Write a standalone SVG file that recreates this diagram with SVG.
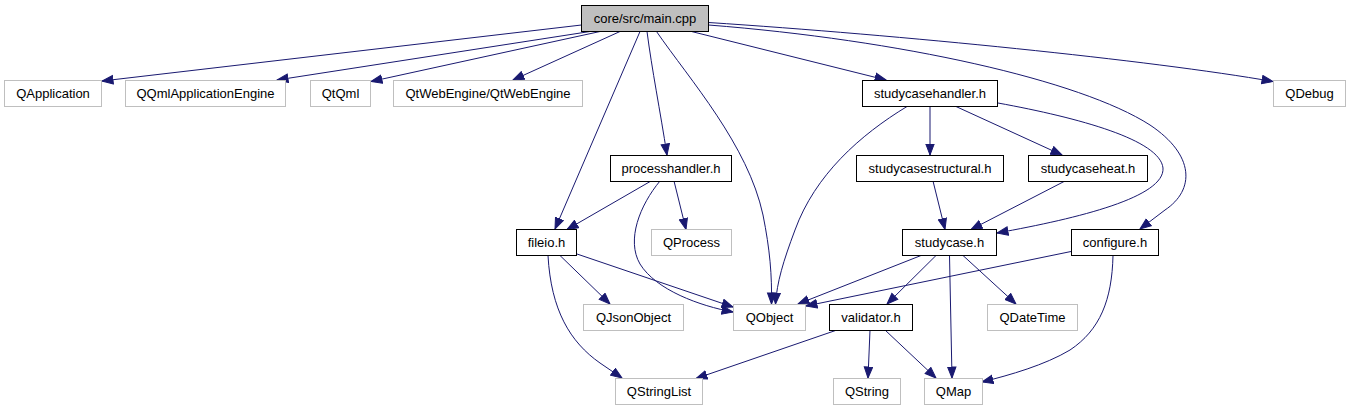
<svg xmlns="http://www.w3.org/2000/svg" width="1349" height="411" viewBox="0 0 1349 411">
<style>
.n rect{fill:#fff;stroke:#000;stroke-width:1}
.n.g rect{stroke:#bfbfbf}
.n.m rect{fill:#bfbfbf}
.n text{font-family:"Liberation Sans",Arial,sans-serif;font-size:13px;text-anchor:middle;fill:#000}
#edges path{fill:none;stroke:#191970;stroke-width:1;marker-end:url(#a)}
</style>
<defs>
<marker id="a" markerUnits="userSpaceOnUse" markerWidth="14" markerHeight="12" refX="11.5" refY="5" orient="auto">
<path d="M0.5,0.8 L11.5,5 L0.5,9.2 z" fill="#191970" stroke="#191970" stroke-width="1"/>
</marker>
</defs>
<rect width="1349" height="411" fill="#fff"/>
<g id="edges">
<path d="M581.5,25 L102,81"/>
<path d="M590,31.5 L277,80"/>
<path d="M600,31.5 L371,81.5"/>
<path d="M620,31.5 L513,80"/>
<path d="M640,31.5 L555,229"/>
<path d="M647,31.5 C652,70 660,110 667,155"/>
<path d="M656.5,31.5 C690,80 748,145 763,215 C770,250 772,275 771.5,304"/>
<path d="M691.5,31.5 L886,80"/>
<path d="M708.5,25 C900,40 1080,80 1150,125 C1195,155 1195,190 1165,210 L1140,229"/>
<path d="M708.5,22.5 C900,35 1150,60 1273,81.5"/>
<path d="M907,106.5 C860,135 815,175 795,230 C783,262 777,282 775.5,304"/>
<path d="M930,106.5 L930,155"/>
<path d="M956,106.5 L1062,155"/>
<path d="M998,103 C1080,118 1160,140 1163,168 C1165,197 1080,218 997,233"/>
<path d="M933,181 L945,229.5"/>
<path d="M1065,181 L971,229.5"/>
<path d="M651,181 L567,229.5"/>
<path d="M674,181 L686,229.5"/>
<path d="M660,181 C640,205 626,240 640,264 C656,290 700,306 733,312"/>
<path d="M577,254 L733,307"/>
<path d="M560,255.5 L610,304"/>
<path d="M548,255.5 C551,310 570,342 600,363 L622,378"/>
<path d="M921,255.5 L798,304"/>
<path d="M1071,251.5 L806,306"/>
<path d="M936,255.5 L887,304"/>
<path d="M949.5,255.5 L952,378"/>
<path d="M963,255.5 L1016,304"/>
<path d="M1113,255.5 C1112,300 1100,330 1070,350 C1045,365 1010,375 982,382"/>
<path d="M837,330 L696,378.5"/>
<path d="M870,330 L868,378"/>
<path d="M885,330 L936,378"/>
</g>
<g id="main" class="n m"><rect x="581.5" y="5.5" width="127" height="26"/><text x="645" y="23">core/src/main.cpp</text></g>
<g id="QApplication" class="n g"><rect x="4.5" y="80.5" width="97" height="26"/><text x="53" y="98">QApplication</text></g>
<g id="QQmlApplicationEngine" class="n g"><rect x="125.5" y="80.5" width="160" height="26"/><text x="205.5" y="98">QQmlApplicationEngine</text></g>
<g id="QtQml" class="n g"><rect x="310.5" y="80.5" width="60" height="26"/><text x="340.5" y="98">QtQml</text></g>
<g id="QtWebEngine" class="n g"><rect x="393.5" y="80.5" width="189" height="26"/><text x="488" y="98">QtWebEngine/QtWebEngine</text></g>
<g id="studycasehandler" class="n"><rect x="862.5" y="80.5" width="135" height="26"/><text x="930" y="98">studycasehandler.h</text></g>
<g id="QDebug" class="n g"><rect x="1273.5" y="80.5" width="72" height="26"/><text x="1309.5" y="98">QDebug</text></g>
<g id="processhandler" class="n"><rect x="610.5" y="155.5" width="121" height="26"/><text x="671" y="173">processhandler.h</text></g>
<g id="studycasestructural" class="n"><rect x="856.5" y="155.5" width="147" height="26"/><text x="930" y="173">studycasestructural.h</text></g>
<g id="studycaseheat" class="n"><rect x="1028.5" y="155.5" width="119" height="26"/><text x="1088" y="173">studycaseheat.h</text></g>
<g id="fileio" class="n"><rect x="516.5" y="229.5" width="60" height="26"/><text x="546.5" y="247">fileio.h</text></g>
<g id="QProcess" class="n g"><rect x="651.5" y="229.5" width="80" height="26"/><text x="691.5" y="247">QProcess</text></g>
<g id="studycase" class="n"><rect x="902.5" y="229.5" width="94" height="26"/><text x="949.5" y="247">studycase.h</text></g>
<g id="configure" class="n"><rect x="1071.5" y="229.5" width="87" height="26"/><text x="1115" y="247">configure.h</text></g>
<g id="QJsonObject" class="n g"><rect x="583.5" y="304.5" width="100" height="26"/><text x="633.5" y="322">QJsonObject</text></g>
<g id="QObject" class="n g"><rect x="733.5" y="304.5" width="72" height="26"/><text x="769.5" y="322">QObject</text></g>
<g id="validator" class="n"><rect x="829.5" y="304.5" width="83" height="26"/><text x="871" y="322">validator.h</text></g>
<g id="QDateTime" class="n g"><rect x="987.5" y="304.5" width="90" height="26"/><text x="1032.5" y="322">QDateTime</text></g>
<g id="QStringList" class="n g"><rect x="615.5" y="378.5" width="87" height="26"/><text x="659" y="396">QStringList</text></g>
<g id="QString" class="n g"><rect x="833.5" y="378.5" width="67" height="26"/><text x="867" y="396">QString</text></g>
<g id="QMap" class="n g"><rect x="924.5" y="378.5" width="58" height="26"/><text x="953.5" y="396">QMap</text></g>
</svg>
